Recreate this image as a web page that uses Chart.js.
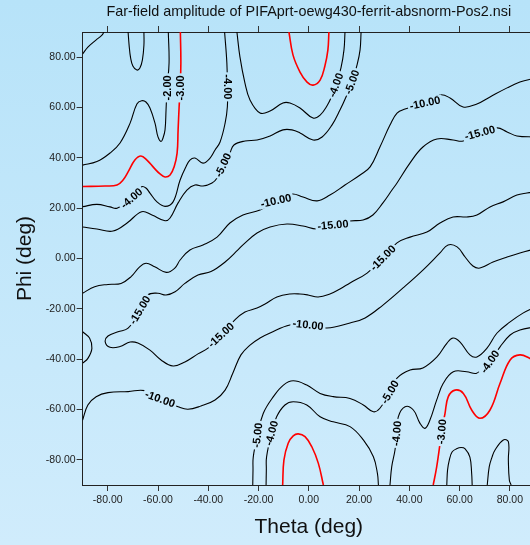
<!DOCTYPE html>
<html>
<head>
<meta charset="utf-8">
<title>Far-field amplitude</title>
<script src="https://cdn.jsdelivr.net/npm/chart.js@4.4.1/dist/chart.umd.min.js"></script>
<style>
html, body { margin: 0; padding: 0; overflow: hidden; width: 530px; height: 545px; }
body { background: linear-gradient(to bottom, #b7e3f9, #d0ecfc); }
#plot { display: block; }
</style>
</head>
<body>
<canvas id="plot" width="545" height="545"></canvas>
<script>
// axis ticks (deg)
const thetaTicks = [-80, -60, -40, -20, 0, 20, 40, 60, 80];
const phiTicks = [-80, -60, -40, -20, 0, 20, 40, 60, 80];

// contour lines, [theta, phi] pairs
const cornerTL = [[-90,81.3],[-87.9,84.0],[-84.7,86.8],[-82.3,88.8],[-81.5,90]];
const uTop = [[-71.9,90],[-71.5,84.8],[-70.9,79.7],[-70.0,76.5],[-68.4,74.9],[-67.2,75.7],[-66.2,78.9],[-65.6,84.8],[-65.6,90]];
const minus2 = [[-55.9,90],[-55.6,77.7],[-56.4,67.8],[-56.8,59.0],[-57.2,51.1],[-58.0,47.9],[-58.8,46.5],[-60.0,48.3],[-61.2,53.8],[-63.2,59.8],[-64.8,62.2],[-66.5,62.7],[-68.4,61.4],[-71.1,53.8],[-75.1,45.9],[-79.1,41.9],[-84.3,38.5],[-90,37.1]];
const minus3Left = [[-51.1,90],[-50.9,77.7],[-51.2,67.8],[-51.6,60.2],[-52.0,51.1],[-52.4,41.9],[-53.6,36.4],[-55.2,33.2],[-57.2,32.4],[-59.2,33.6],[-61.6,36.0],[-64.4,39.1],[-66.8,40.7],[-69.2,39.1],[-71.9,34.4],[-73.9,31.2],[-76.3,29.2],[-81.1,28.8],[-90,28.6]];
const minus4Left = [[-90,20.6],[-84.3,21.5],[-79.1,20.5],[-76.3,20.0],[-70.5,23.9],[-66.5,28.5],[-64.8,28.0],[-63.2,26.0],[-60.4,22.5],[-57.2,20.7],[-54.0,22.5],[-51.2,31.2],[-48.9,36.4],[-47.3,39.1],[-45.3,39.9],[-42.1,37.9],[-39.3,39.9],[-37.3,43.1],[-35.3,46.3],[-33.3,53.8],[-32.4,60.3],[-32.4,68.2],[-32.6,77.7],[-33.5,90]];
const minus5Upper = [[-90,12.5],[-84.3,11.7],[-77.9,10.9],[-72.3,14.1],[-66.5,18.6],[-62.4,17.3],[-57.2,15.0],[-55.2,16.1],[-52.0,22.1],[-48.5,27.2],[-45.3,29.2],[-42.1,28.8],[-38.5,30.0],[-36.5,32.0],[-34.1,37.1],[-31.4,41.9],[-29.8,45.1],[-25.4,46.7],[-20.6,47.1],[-15.4,48.7],[-10.3,51.1],[-6.7,51.1],[-3.5,49.9],[1.7,47.1],[5.3,48.3],[9.2,53.0],[12.4,59.0],[14.8,64.2],[17.2,70.1],[19.2,76.9],[20.4,82.9],[20.8,90]];
const minus4Upper = [[-28.6,90],[-27.4,80.1],[-25.4,69.7],[-23.4,63.0],[-19.4,57.8],[-15.4,58.6],[-10.3,61.8],[-7.5,61.8],[-3.5,59.8],[1.7,55.8],[4.5,57.0],[7.2,60.6],[9.2,64.6],[10.8,68.9],[12.8,75.7],[14.0,82.9],[14.4,90]];
const minus3Top = [[-7.9,90],[-6.3,80.9],[-3.5,74.1],[-0.7,70.1],[1.7,68.9],[4.5,70.9],[6.4,76.5],[7.6,82.9],[8.0,90]];
const minus10Upper = [[-90,-13.8],[-85.2,-11.2],[-79.9,-10.3],[-74.7,-9.9],[-70.7,-7.2],[-67.3,-3.3],[-64.7,-1.9],[-61.3,-3.3],[-56.7,-5.5],[-53.4,-3.9],[-51.2,-0.6],[-47.3,3.4],[-42.1,5.4],[-36.5,8.5],[-31.4,14.1],[-26.2,17.3],[-19.4,19.3],[-13.1,22.9],[-6.7,25.6],[-2.3,24.4],[3.3,22.9],[8.4,25.2],[14.4,29.2],[20.4,33.2],[24.4,36.4],[28.3,44.3],[32.3,53.0],[35.1,57.8],[38.3,59.4],[46.2,61.8],[52.2,65.0],[56.2,63.8],[61.4,60.2],[66.9,61.4],[72.1,64.2],[78.9,67.8],[84.0,70.1],[90,71.7]];
const minus15 = [[90,26.4],[86.8,26.0],[82.8,25.2],[77.3,22.5],[72.1,20.5],[66.9,17.3],[62.9,16.5],[57.4,16.5],[52.2,14.1],[47.0,10.5],[40.3,8.5],[35.1,6.2],[29.5,0.2],[23.2,-5.8],[16.4,-9.7],[12.4,-12.1],[8.4,-14.1],[3.7,-15.3],[-0.3,-14.5],[-3.5,-14.1],[-7.5,-14.1],[-12.7,-15.3],[-17.4,-18.1],[-20.6,-19.7],[-25.4,-21.3],[-29.4,-24.4],[-34.9,-30.4],[-40.1,-35.6],[-44.1,-37.9],[-49.3,-41.1],[-54.0,-42.7],[-58.8,-40.3],[-63.2,-36.4],[-68.0,-33.6],[-71.1,-33.2],[-75.1,-35.0],[-79.1,-35.3],[-81.0,-33.1],[-79.9,-30.8],[-75.9,-29.1],[-71.9,-27.7],[-67.2,-20.5],[-64.0,-14.5],[-60.0,-13.8],[-56.8,-14.5],[-53.2,-13.2],[-49.3,-9.9],[-44.1,-6.6],[-38.9,-5.2],[-33.3,-1.4],[-28.2,3.4],[-26.2,5.4],[-20.6,10.1],[-15.4,12.5],[-8.7,13.7],[-2.3,12.9],[3.3,11.7],[9.6,13.3],[16.4,14.9],[21.6,15.3],[25.5,17.3],[29.5,22.1],[33.1,27.2],[35.1,30.0],[40.3,38.0],[45.4,44.3],[51.0,47.5],[57.4,47.1],[61.4,46.7],[68.1,49.9],[74.9,51.9],[78.9,50.3],[82.8,48.7],[90,48.3]];
const minus10Lower = [[-90,-64.2],[-87.9,-58.2],[-84.6,-54.9],[-79.9,-53.3],[-71.9,-52.9],[-65.3,-52.5],[-59.2,-55.8],[-52.0,-58.9],[-48.1,-59.9],[-42.9,-58.6],[-37.3,-56.2],[-33.3,-52.3],[-30.2,-45.5],[-27.0,-38.3],[-23.4,-34.4],[-19.4,-31.6],[-15.4,-29.6],[-7.5,-26.4],[-0.3,-26.4],[7.2,-27.6],[16.4,-25.6],[22.4,-23.6],[29.5,-18.5],[37.5,-11.7],[45.4,-4.6],[52.2,2.2],[55.4,5.4],[59.0,4.6],[62.2,0.6],[65.3,-3.0],[68.1,-3.8],[73.3,-1.4],[78.9,0.6],[84.0,2.2],[90,3.8]];
const bumpLeft = [[-90,-29.1],[-87.2,-31.7],[-86.3,-35.7],[-87.9,-39.7],[-90,-41.6]];
const minus5Lower = [[-22.3,-90],[-22.2,-84.0],[-22.1,-78.9],[-20.4,-70.2],[-18.1,-61.5],[-14.1,-54.9],[-10.1,-50.3],[-6.2,-48.6],[-0.8,-50.3],[4.5,-53.6],[9.7,-54.9],[16.4,-55.6],[21.7,-58.2],[25.7,-60.9],[28.3,-59.5],[32.3,-53.1],[35.1,-47.5],[40.3,-44.3],[45.4,-43.5],[51.0,-39.1],[55.0,-33.6],[57.4,-31.6],[60.2,-33.2],[64.1,-38.3],[66.9,-39.1],[70.9,-35.6],[74.9,-29.6],[80.1,-25.2],[85.2,-21.7],[90,-19.3]];
const minus4LowLeft = [[-17.0,-90],[-16.9,-84.0],[-16.8,-78.8],[-14.8,-69.4],[-12.8,-62.9],[-9.5,-58.2],[-6.2,-56.9],[-0.8,-58.2],[4.5,-62.9],[9.7,-64.9],[16.4,-66.8],[21.7,-72.1],[25.7,-78.8],[27.3,-85.4],[27.7,-90]];
const minus3Bottom = [[-10.4,-90],[-9.9,-80.1],[-8.2,-73.4],[-6.2,-70.5],[-4.2,-69.7],[-1.5,-70.8],[1.2,-74.8],[3.8,-81.4],[5.8,-90]];
const minus4LowRight = [[32.3,-90],[33.0,-82.7],[34.3,-76.1],[35.0,-69.5],[35.6,-62.9],[38.3,-58.9],[41.6,-60.2],[44.2,-65.4],[46.2,-67.5],[48.2,-64.2],[50.9,-56.2],[53.5,-49.6],[57.5,-45.0],[62.8,-45.0],[66.8,-45.6],[69.4,-43.0],[72.1,-41.0],[76.1,-35.1],[80.1,-30.4],[84.0,-28.4],[90,-27.2]];
const minus3Right = [[49.5,-90],[50.9,-82.7],[52.9,-68.8],[54.2,-61.5],[55.5,-54.9],[58.2,-52.3],[61.5,-53.6],[64.8,-60.2],[68.1,-63.5],[72.1,-60.2],[76.1,-49.6],[80.1,-40.3],[84.0,-38.3],[88.0,-39.7],[90,-41.0]];
const loopA = [[54.9,-90],[55.2,-84.1],[55.9,-80.1],[57.0,-76.9],[58.8,-75.6],[60.6,-75.1],[62.2,-75.6],[64.1,-78.9],[64.8,-85.4],[65.0,-90]];
const loopB = [[71.0,-90],[71.8,-82.7],[72.9,-78.9],[74.1,-76.1],[77.4,-72.1],[79.4,-72.8],[79.4,-80.1],[79.8,-88.1],[80.5,-90]];

const contourLines = [cornerTL, uTop, minus2, minus3Left, minus4Left, minus5Upper, minus4Upper, minus3Top,
  minus10Upper, minus15, minus10Lower, bumpLeft, minus5Lower, minus4LowLeft, minus3Bottom,
  minus4LowRight, minus3Right, loopA, loopB];
const contourLevels = [-1, -1, -2, -3, -4, -5, -4, -3, -10, -15, -10, -15, -5, -4, -3, -4, -3, -2, -2];

// contour labels: text, [theta, phi] anchor, tilt in degrees
const labelText = ['-2.00', '-3.00', '-4.00', '-4.00', '-5.00', '-4.00', '-5.00', '-10.00', '-10.00', '-15.00', '-15.00',
  '-15.00', '-15.00', '-15.00', '-10.00', '-10.00', '-5.00', '-4.00', '-5.00', '-4.00', '-4.00', '-3.00'];
const labelPos = [[-56.4,67.8],[-51.2,67.8],[-32.4,68.2],[-70.5,23.9],[-34.1,37.1],[10.8,68.9],[17.2,70.1],[-13.1,22.9],[46.2,61.8],[9.6,13.3],[68.1,49.9],
  [29.5,0.2],[-67.2,-20.5],[-34.9,-30.4],[-59.2,-55.8],[-0.3,-26.4],[32.3,-53.1],[72.1,-41.0],[-20.4,-70.2],[-14.8,-69.4],[35.0,-69.5],[52.9,-68.8]];
const labelTilt = [-90, -90, 90, -41, -65, -70, -70, -13, -12, -5, -15, -45, -59, -43, 20, 6, -60, -55, -84, -75, -85, -85];

const FONT = 'Arial, "Liberation Sans", sans-serif';
Chart.defaults.font.family = FONT;

const contourLabels = {
  id: 'contourLabels',
  afterDatasetsDraw(chart) {
    const ctx = chart.ctx;
    const xs = chart.scales.x, ys = chart.scales.y;
    ctx.save();
    ctx.font = 'bold 11px ' + FONT;
    ctx.textAlign = 'center';
    ctx.textBaseline = 'middle';
    for (let i = 0; i < labelText.length; i++) {
      const px = xs.getPixelForValue(labelPos[i][0]);
      const py = ys.getPixelForValue(labelPos[i][1]);
      const w = ctx.measureText(labelText[i]).width;
      ctx.save();
      ctx.translate(px, py);
      ctx.rotate(labelTilt[i] * Math.PI / 180);
      ctx.globalCompositeOperation = 'destination-out'; // gap in the line under the text
      ctx.fillRect(-w / 2 - 2, -5, w + 4, 10);
      ctx.globalCompositeOperation = 'source-over';
      ctx.fillStyle = '#000';
      ctx.fillText(labelText[i], 0, 0.5);
      ctx.restore();
    }
    ctx.restore();
  }
};

const fmt = v => Number(v).toFixed(2);

new Chart(document.getElementById('plot'), {
  type: 'scatter',
  data: {
    datasets: contourLines.map((pts, i) => ({
      data: pts.map(p => ({x: p[0], y: p[1]})),
      showLine: true,
      borderColor: contourLevels[i] === -3 ? '#ff0000' : '#000000',
      borderWidth: contourLevels[i] === -3 ? 1.6 : 1.1,
      pointRadius: 0,
      tension: 0.4,
      fill: false
    }))
  },
  options: {
    responsive: false,
    animation: false,
    devicePixelRatio: 1,
    events: [],
    layout: { padding: { left: 0, right: 10, top: 0, bottom: 0 } },
    plugins: {
      legend: { display: false },
      tooltip: { enabled: false },
      title: {
        display: true,
        text: 'Far-field amplitude of PIFAprt-oewg430-ferrit-absnorm-Pos2.nsi',
        color: '#111',
        font: { size: 14.4, weight: 'normal' },
        padding: { top: 3, bottom: 0 },
        fullSize: false
      }
    },
    scales: {
      x: {
        type: 'linear', position: 'bottom', min: -90, max: 90,
        afterBuildTicks: s => { s.ticks = thetaTicks.map(v => ({value: v})); },
        afterFit: s => { s.height = 60; },
        ticks: { callback: fmt, color: '#222', font: { size: 10.5 }, padding: 3, maxRotation: 0, autoSkip: false },
        grid: { drawOnChartArea: false, drawTicks: true, tickLength: 6, tickColor: '#333' },
        border: { display: true, color: '#222', width: 1 },
        title: { display: true, text: 'Theta (deg)', color: '#111', font: { size: 21 }, padding: { top: 0, bottom: 5 } }
      },
      xTop: {
        type: 'linear', position: 'top', min: -90, max: 90,
        afterBuildTicks: s => { s.ticks = thetaTicks.map(v => ({value: v})); },
        afterFit: s => { s.height = 11.72; },
        ticks: { display: false },
        grid: { drawOnChartArea: false, drawTicks: true, tickLength: 6, tickColor: '#333' },
        border: { display: true, color: '#222', width: 1 }
      },
      y: {
        type: 'linear', position: 'left', min: -90, max: 90,
        afterBuildTicks: s => { s.ticks = phiTicks.map(v => ({value: v})); },
        afterFit: s => { s.width = 82.6; },
        ticks: { callback: fmt, color: '#222', font: { size: 10.5 }, padding: 1, autoSkip: false },
        grid: { drawOnChartArea: false, drawTicks: true, tickLength: 6, tickColor: '#333' },
        border: { display: true, color: '#222', width: 1 },
        title: { display: true, text: 'Phi (deg)', color: '#111', font: { size: 21 }, padding: { top: 13, bottom: 0 } }
      }
    }
  },
  plugins: [contourLabels]
});
</script>
</body>
</html>
